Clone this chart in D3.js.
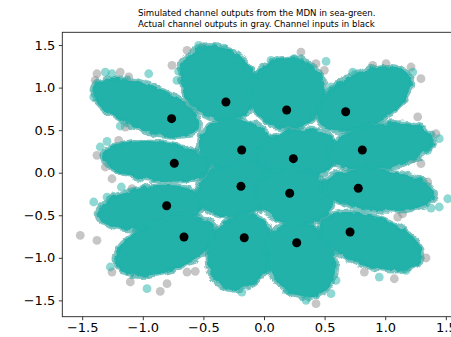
<!DOCTYPE html>
<html>
<head>
<meta charset="utf-8">
<script src="https://cdn.jsdelivr.net/npm/d3@7"></script>
<style>
  body { margin: 0; background: #fff; }
  svg { display: block; font-family: 'DejaVu Sans', sans-serif; }
</style>
</head>
<body>
<svg width="451" height="337"></svg>
<script>
const width = 451;
const height = 337;

// channel inputs (black)
const inputX = [-0.762, -0.314, 0.187, 0.674, -0.740, -0.184, 0.242, 0.811,
                -0.803, -0.190, 0.212, 0.778, -0.660, -0.163, 0.270, 0.710];
const inputY = [0.635, 0.831, 0.737, 0.717, 0.110, 0.267, 0.165, 0.267,
                -0.388, -0.160, -0.242, -0.183, -0.756, -0.764, -0.823, -0.697];

// output cloud of each input: centre, radial half-spread, tangential half-spread, direction (deg)
const cloudX = [-0.975, -0.373, 0.196, 0.826, -0.884, -0.22, 0.28, 0.961,
                -0.930, -0.23, 0.25, 0.946, -0.814, -0.191, 0.304, 0.883];
const cloudY = [0.770, 1.054, 0.939, 0.867, 0.134, 0.30, 0.20, 0.309,
                -0.415, -0.20, -0.28, -0.207, -0.859, -0.934, -1.022, -0.808];
const cloudA = [0.50, 0.45, 0.42, 0.47, 0.45, 0.35, 0.35, 0.45,
                0.45, 0.35, 0.35, 0.47, 0.47, 0.45, 0.45, 0.47];
const cloudB = [0.25, 0.31, 0.31, 0.28, 0.23, 0.30, 0.30, 0.26,
                0.25, 0.30, 0.30, 0.24, 0.28, 0.27, 0.28, 0.28];
const cloudDir = [147, 104.7, 87.4, 44.3, 170.5, 125, 35, 15.7,
                  192, 220, 310, -8.2, 213.7, 260.7, 279.7, 327.4];

// stray actual outputs (gray) outside the clouds
const grayX = [-1.378, -1.392, -1.186, -1.116, -0.759, -0.635, -0.512, -0.264, -1.378, -1.254,
               -1.309, -1.089, -1.516, -1.378, -1.254, -1.103, -0.856, -0.800, -0.635, -0.567,
               -0.085, -1.144, -1.199, 0.305, 0.429, 0.498, 0.897, 1.007, 1.213, 1.295,
               1.075, 1.268, 1.419, 1.295, 1.227, 1.351, 1.144, 1.103, 1.337, 1.075,
               0.828, 0.429, 0.264, -0.121];
const grayY = [1.163, 1.086, 1.183, 1.125, 1.262, 1.438, 1.477, 1.340, 0.204, -0.071,
               0.067, -0.188, -0.736, -0.794, -1.167, -1.284, -1.394, -1.304, -1.167, -1.159,
               -1.264, 0.537, 0.381, 1.418, 1.281, 1.203, 1.262, 1.281, 1.242, 1.105,
               1.027, 0.655, 0.458, 0.106, 0.165, -0.109, -0.482, -0.521, -1.002, -1.246,
               -1.167, -1.539, -1.382, 1.105];

// stray simulated outputs (sea-green) outside the clouds
const simX = [-1.309, -1.254, -1.405, -0.951, -0.539, -0.333, -0.704, -0.718, -0.182, -0.044,
              -1.295, -1.351, -1.405, -1.295, -1.177, -1.268, -0.965, -1.172, -0.182, -0.319,
              -1.186, 0.058, 0.250, 0.512, 0.553, 0.732, 1.172, 1.227, 1.446, 1.351,
              1.516, 1.446, 1.378, 1.199, 1.268, 1.172, 0.951, 0.594, 0.347, 0.196, 0.553];
const simY = [1.183, 1.163, 0.890, 1.163, 1.497, 1.465, 1.192, 1.086, 1.262, 1.163,
              0.369, 0.302, -0.344, -0.286, -0.168, -1.108, -1.363, -0.952, -1.402, -1.323,
              0.549, 1.321, 1.340, 1.309, 1.007, 1.183, 1.027, 1.183, 0.400, 0.263,
              -0.306, -0.403, -0.415, -0.794, -0.893, -1.147, -1.226, -1.264, -1.499, -1.382, -1.422];

const xTicks = [-1.5, -1.0, -0.5, 0.0, 0.5, 1.0, 1.5];
const yTicks = [-1.5, -1.0, -0.5, 0.0, 0.5, 1.0, 1.5];
const titleLines = ['Simulated channel outputs from the MDN in sea-green.',
                    'Actual channel outputs in gray. Channel inputs in black'];

const margin = ({top: 32.3, right: -14.7, bottom: 20.3, left: 62.3});

const x = d3.scaleLinear().domain([-1.664, 1.664])
    .range([margin.left, width - margin.right]);
const y = d3.scaleLinear().domain([-1.692, 1.650])
    .range([height - margin.bottom, margin.top]);

const seaGreen = '#20b2aa';

const svg = d3.select('svg');

const defs = svg.append('defs');
defs.append('clipPath').attr('id', 'plot')
    .append('rect')
    .attr('x', x.range()[0]).attr('y', y.range()[1])
    .attr('width', x.range()[1] - x.range()[0])
    .attr('height', y.range()[0] - y.range()[1]);

const rough = defs.append('filter').attr('id', 'rough')
    .attr('x', '-10%').attr('y', '-10%').attr('width', '120%').attr('height', '120%');
rough.append('feTurbulence').attr('type', 'fractalNoise')
    .attr('baseFrequency', 0.12).attr('numOctaves', 2).attr('seed', 3).attr('result', 'n');
rough.append('feDisplacementMap').attr('in', 'SourceGraphic').attr('in2', 'n')
    .attr('scale', 7).attr('xChannelSelector', 'R').attr('yChannelSelector', 'G');

const clouds = d3.range(inputX.length).map(i => ({
  cx: cloudX[i], cy: cloudY[i], a: cloudA[i], b: cloudB[i], dir: cloudDir[i] * Math.PI / 180
}));

function cloudPath(c, grow) {
  const ux = Math.cos(c.dir), uy = Math.sin(c.dir);
  const pts = d3.range(72).map(k => {
    const t = k / 72 * 2 * Math.PI;
    const ca = (c.a + grow) * Math.cos(t), cb = (c.b + grow) * Math.sin(t);
    return [x(c.cx + ca * ux - cb * uy), y(c.cy + ca * uy + cb * ux)];
  });
  return d3.line().curve(d3.curveCardinalClosed)(pts);
}

const plot = svg.append('g').attr('clip-path', 'url(#plot)');

// actual outputs
plot.append('g')
    .attr('filter', 'url(#rough)')
    .selectAll('path')
    .data(clouds)
    .join('path')
    .attr('d', c => cloudPath(c, 0.025))
    .attr('fill', '#808080')
    .attr('fill-opacity', 0.35);

plot.append('g')
    .selectAll('circle')
    .data(d3.zip(grayX, grayY))
    .join('circle')
    .attr('cx', d => x(d[0]))
    .attr('cy', d => y(d[1]))
    .attr('r', 4.4)
    .attr('fill', '#808080')
    .attr('fill-opacity', 0.45);

// simulated outputs
plot.append('g')
    .attr('filter', 'url(#rough)')
    .selectAll('path')
    .data(clouds)
    .join('path')
    .attr('d', c => cloudPath(c, 0))
    .attr('fill', seaGreen)
    .attr('stroke', seaGreen)
    .attr('stroke-opacity', 0.5)
    .attr('stroke-width', 5);

plot.append('g')
    .selectAll('circle')
    .data(d3.zip(simX, simY))
    .join('circle')
    .attr('cx', d => x(d[0]))
    .attr('cy', d => y(d[1]))
    .attr('r', 4.4)
    .attr('fill', seaGreen)
    .attr('fill-opacity', 0.5);

// inputs
plot.append('g')
    .selectAll('circle')
    .data(d3.zip(inputX, inputY))
    .join('circle')
    .attr('cx', d => x(d[0]))
    .attr('cy', d => y(d[1]))
    .attr('r', 4.5)
    .attr('fill', '#000');

const fmt = d3.format('.1f');
const tickLabel = d => fmt(d).replace('-', '\u2212');

svg.append('g')
    .attr('transform', `translate(0,${y.range()[0]})`)
    .call(d3.axisBottom(x).tickValues(xTicks).tickFormat(tickLabel).tickSize(3.5).tickPadding(3))
    .call(g => g.select('.domain').remove())
    .call(g => g.selectAll('line').attr('stroke', '#222').attr('stroke-width', 0.9))
    .call(g => g.selectAll('text').attr('font-size', 13).attr('fill', '#000')
                 .attr('font-family', "'DejaVu Sans', sans-serif"));

svg.append('g')
    .attr('transform', `translate(${x.range()[0]},0)`)
    .call(d3.axisLeft(y).tickValues(yTicks).tickFormat(tickLabel).tickSize(3.5).tickPadding(3.5))
    .call(g => g.select('.domain').remove())
    .call(g => g.selectAll('line').attr('stroke', '#222').attr('stroke-width', 0.9))
    .call(g => g.selectAll('text').attr('font-size', 13).attr('fill', '#000')
                 .attr('font-family', "'DejaVu Sans', sans-serif"));

svg.append('rect')
    .attr('x', x.range()[0]).attr('y', y.range()[1])
    .attr('width', x.range()[1] - x.range()[0])
    .attr('height', y.range()[0] - y.range()[1])
    .attr('fill', 'none')
    .attr('stroke', '#222')
    .attr('stroke-width', 0.9);

const title = svg.append('text')
    .attr('font-size', 8.6)
    .attr('fill', '#000');
title.selectAll('tspan')
    .data(titleLines)
    .join('tspan')
    .attr('x', 138)
    .attr('y', (d, i) => 16.4 + i * 10.4)
    .text(d => d);
</script>
</body>
</html>
